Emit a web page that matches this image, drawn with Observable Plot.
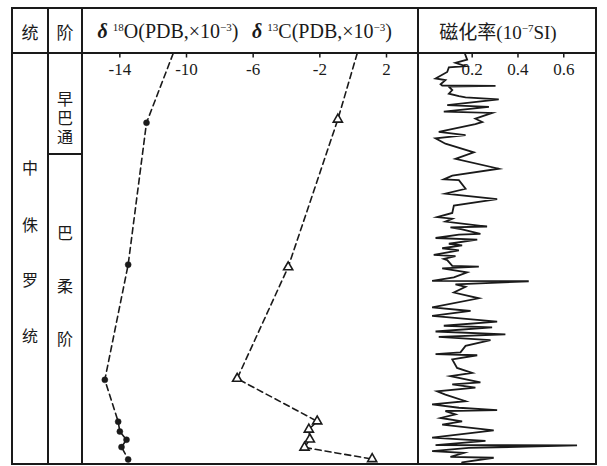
<!DOCTYPE html>
<html><head><meta charset="utf-8">
<script src="https://cdn.jsdelivr.net/npm/d3@7"></script>
<script src="https://cdn.jsdelivr.net/npm/@observablehq/plot@0.6"></script>
<style>
body{margin:0;background:#fff;}
#wrap{position:relative;width:607px;height:466px;font-family:"Liberation Serif",serif;color:#1a1a1a;overflow:hidden;}
#wrap svg text{font-family:"Liberation Serif","Times New Roman",serif !important;}
.cjk{font-family:"Noto Sans CJK SC",sans-serif;}
.ln{position:absolute;background:#1a1a1a;z-index:5;}
.t{position:absolute;font-size:18px;line-height:1;transform:translate(-50%,-50%);white-space:nowrap;}
.vert{writing-mode:vertical-rl;letter-spacing:3px;}
.sup{font-size:11px;vertical-align:7px;}
.plot{position:absolute;top:53px;}
#p1{left:82px}#p2{left:418px}
</style></head><body>
<div id="wrap">
  <div id="p1" class="plot"></div>
  <div id="p2" class="plot"></div>
</div>
<script>
// ---- data ----
const seriesLabels = ["统", "阶"];
const seriesName = ["中", "侏", "罗", "统"];
const stageUpper = "早巴通";
const stageLower = ["巴", "柔", "阶"];

const isoTicks = [-14, -10, -6, -2, 2];
const magTicks = [0.2, 0.4, 0.6];
const magTickLabels = ["0.2", "0.4", "0.6"];

// relative position within the section (0 = top, 100 = base)
const o18Depth = [16.9, 51.5, 79.6, 89.8, 92.2, 94.2, 96.0, 99.0];
const o18Value = [-12.4, -13.5, -14.9, -14.1, -14.0, -13.6, -13.9, -13.5];
const o18TopValue = -10.8;   // dashed trend reaching top of section

const c13Depth = [16.1, 52.1, 79.3, 89.7, 91.7, 94.1, 96.1, 98.9];
const c13Value = [-0.92, -3.9, -6.96, -2.16, -2.66, -2.6, -2.92, 1.14];
const c13TopValue = 0.24;

const magDepth = [0,1.5,2.3,3.1,3.4,4.5,6.1,6.5,7.5,7.8,7.9,8.1,8.9,9.8,10.4,10.7,11.2,12.6,13.0,14.2,14.5,15.9,16.7,17.2,19.1,19.9,20.7,22.0,24.1,
25.7,28.1,29.8,30.7,30.9,33.0,34.2,35.5,37.1,38.9,39.9,40.3,41.0,42.2,42.4,42.9,44.0,44.2,45.0,45.4,46.4,46.8,47.5,48.0,49.1,49.4,50.1,
50.4,51.8,52.0,52.4,53.4,54.6,55.45,55.55,56.3,56.9,58.3,59.7,61.9,62.8,64.0,65.4,66.4,66.8,67.8,68.5,69.1,69.9,71.3,72.9,73.3,73.6,74.6,
76.7,77.9,78.7,80.2,80.7,81.5,82.4,83.2,84.8,85.6,86.4,87.0,87.2,88.0,88.9,89.7,90.5,91.9,93.7,94.5,95.5,95.6,96.2,97.0,97.4,98.4,98.6,99.7];
const magValue = [0.168,0.178,0.127,0.171,0.098,0.091,0.040,0.083,0.062,0.069,0.302,0.098,0.113,0.098,0.142,0.171,0.316,0.091,0.273,0.076,0.287,0.214,0.244,0.214,0.054,0.171,0.040,0.083,0.207,
0.127,0.316,0.113,0.076,0.142,0.171,0.083,0.309,0.120,0.113,0.047,0.113,0.083,0.265,0.105,0.156,0.236,0.142,0.040,0.222,0.098,0.156,0.069,0.142,0.032,0.127,0.076,
0.091,0.113,0.229,0.069,0.178,0.120,0.025,0.447,0.127,0.171,0.120,0.229,0.025,0.193,0.025,0.309,0.076,0.287,0.040,0.345,0.054,0.280,0.171,0.149,0.040,0.222,0.113,
0.134,0.200,0.105,0.236,0.113,0.214,0.047,0.083,0.171,0.025,0.142,0.309,0.083,0.127,0.062,0.156,0.069,0.294,0.025,0.258,0.040,0.658,0.185,0.025,0.164,0.105,0.294,0.156];

// ---- tables ----
const o18 = o18Depth.map((d, i) => ({depth: d, value: o18Value[i]}));
const c13 = c13Depth.map((d, i) => ({depth: d, value: c13Value[i]}));
const o18Line = [{depth: 0, value: o18TopValue}, ...o18];
const c13Line = [{depth: 0, value: c13TopValue}, ...c13];
const mag = magDepth.map((d, i) => ({depth: d, value: magValue[i]}));

const ink = "#1a1a1a";
const serif = "Liberation Serif, Times New Roman, serif";
const yScale = {domain: [0, 100], range: [0, 410], axis: null};
const base = {height: 411, marginTop: 0, marginBottom: 0, marginLeft: 0, marginRight: 0,
  style: {background: "transparent", fontFamily: serif, color: ink, overflow: "visible"}};

const p1 = Plot.plot({
  ...base, width: 336,
  x: {domain: [-16.24, 3.92], axis: null},
  y: yScale,
  marks: [
    Plot.ruleX(isoTicks, {x: d => d, y1: 0, y2: 1.1, stroke: ink, strokeWidth: 1.5}),
    Plot.text(isoTicks, {x: d => d, y: 3.9, text: d => String(d), fontSize: 17, fontFamily: serif, fill: ink}),
    Plot.line(o18Line, {x: "value", y: "depth", stroke: ink, strokeWidth: 1.6, strokeDasharray: "6,4"}),
    Plot.line(c13Line, {x: "value", y: "depth", stroke: ink, strokeWidth: 1.6, strokeDasharray: "6,4"}),
    Plot.dot(o18, {x: "value", y: "depth", r: 3, fill: ink, stroke: ink, strokeWidth: 0.5}),
    Plot.dot(c13, {x: "value", y: "depth", symbol: "triangle", r: 3.4, fill: "white", stroke: ink, strokeWidth: 1.6})
  ]
});
document.getElementById("p1").appendChild(p1);

const p2 = Plot.plot({
  ...base, width: 178,
  x: {domain: [-0.0345, 0.743], axis: null},
  y: yScale,
  marks: [
    Plot.ruleX(magTicks, {x: d => d, y1: 0, y2: 1.1, stroke: ink, strokeWidth: 1.5}),
    Plot.text(magTicks, {x: d => d, y: 4.0, text: (d, i) => magTickLabels[i], fontSize: 17, fontFamily: serif, fill: ink}),
    Plot.line(mag, {x: "value", y: "depth", stroke: ink, strokeWidth: 1.8, strokeLinejoin: "miter", strokeMiterlimit: 6})
  ]
});
document.getElementById("p2").appendChild(p2);

// ---- frame and texts ----
const wrap = document.getElementById("wrap");
function line(l, t, w, h) {
  const e = document.createElement("div"); e.className = "ln";
  Object.assign(e.style, {left: l + "px", top: t + "px", width: w + "px", height: h + "px"});
  wrap.appendChild(e);
}
line(11, 7, 586, 2);     // top
line(11, 463, 586, 2);   // bottom
line(11, 7, 2, 458);     // left
line(595, 7, 2, 458);    // right
line(11, 52, 586, 2);    // header
line(47.3, 8, 1.5, 456);
line(81.3, 8, 1.5, 456);
line(417.3, 8, 1.5, 456);
line(48, 153.3, 34, 1.5);

function text(html, x, y, cls, size) {
  const e = document.createElement("div"); e.className = "t " + (cls || "");
  e.innerHTML = html; e.style.left = x + "px"; e.style.top = y + "px";
  if (size) e.style.fontSize = size + "px";
  wrap.appendChild(e);
}
text(seriesLabels[0], 30, 31, "cjk", 17);
text(seriesLabels[1], 65, 31, "cjk", 17);
text('<b><i>δ</i></b> <span class="sup">18</span>O(PDB,×10<span class="sup">−3</span>)', 168, 31, "", 20);
text('<b><i>δ</i></b> <span class="sup">13</span>C(PDB,×10<span class="sup">−3</span>)', 322, 31, "", 20);
text('<span class="cjk">磁化率</span>(10<span class="sup">−7</span>SI)', 498, 31, "", 19);
[167, 224, 279, 335].forEach((y, i) => text(seriesName[i], 30, y, "cjk", 16));
text(stageUpper, 65, 119, "cjk vert", 16);
[232, 285, 338].forEach((y, i) => text(stageLower[i], 65, y, "cjk", 16));
</script>
</body></html>
